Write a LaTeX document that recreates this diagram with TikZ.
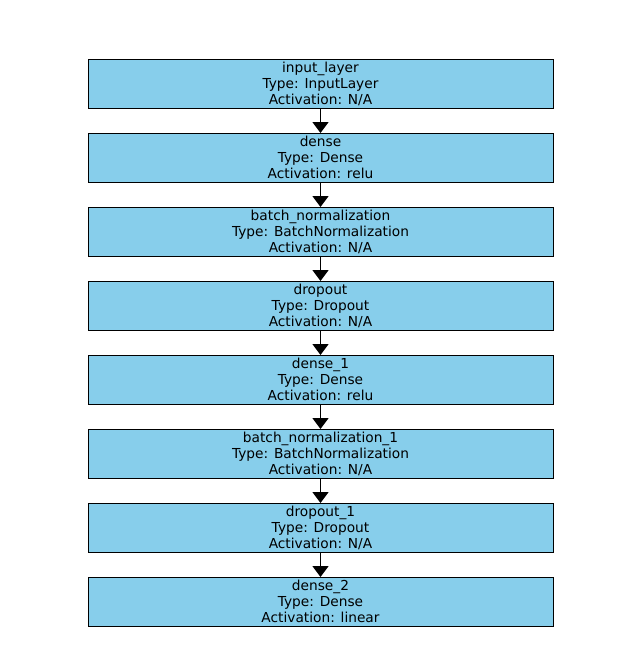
\documentclass[tikz,border=0pt]{standalone}
\usepackage{fontspec}
\setmainfont{DejaVu Sans}
\usepackage{xcolor}
\definecolor{lopxanh}{HTML}{87CEEB}
\def\maulop{lopxanh}
\usepackage{tikz}
\usetikzlibrary{arrows.meta,positioning}
\tikzset{
	lop/.style={draw=black,line width=0.75pt,fill=\maulop,minimum width=348.75pt,minimum height=36.75pt,inner sep=0pt,outer sep=0pt,align=center,font=\fontsize{10.3}{12}\selectfont},
	noi/.style={line width=1.1pt,-{Triangle[width=12pt,length=8.25pt]}}
}
\begin{document}
\begin{tikzpicture}[x=0.75pt,y=-0.75pt,node distance=18.75pt]
	\useasboundingbox (0,0) rectangle (640,661);
	%%Lớp đầu vào
	\node[lop] (L1) at (320.5,83.5) {input\_layer\\Type: InputLayer\\Activation: N/A};
	%%Các lớp còn lại
	\foreach [count=\i from 2] \ten/\kieu/\ham in {%
		dense/Dense/relu,
		batch\_normalization/BatchNormalization/N\slash A,
		dropout/Dropout/N\slash A,
		dense\_1/Dense/relu,
		batch\_normalization\_1/BatchNormalization/N\slash A,
		dropout\_1/Dropout/N\slash A,
		dense\_2/Dense/linear
		}{%
		\pgfmathtruncatemacro\j{\i-1}
		\node[lop,below=of L\j] (L\i) {\ten\\Type: \kieu\\Activation: \ham};
		\draw[noi] (L\j.south)--(L\i.north);
	}
\end{tikzpicture}
\end{document}
